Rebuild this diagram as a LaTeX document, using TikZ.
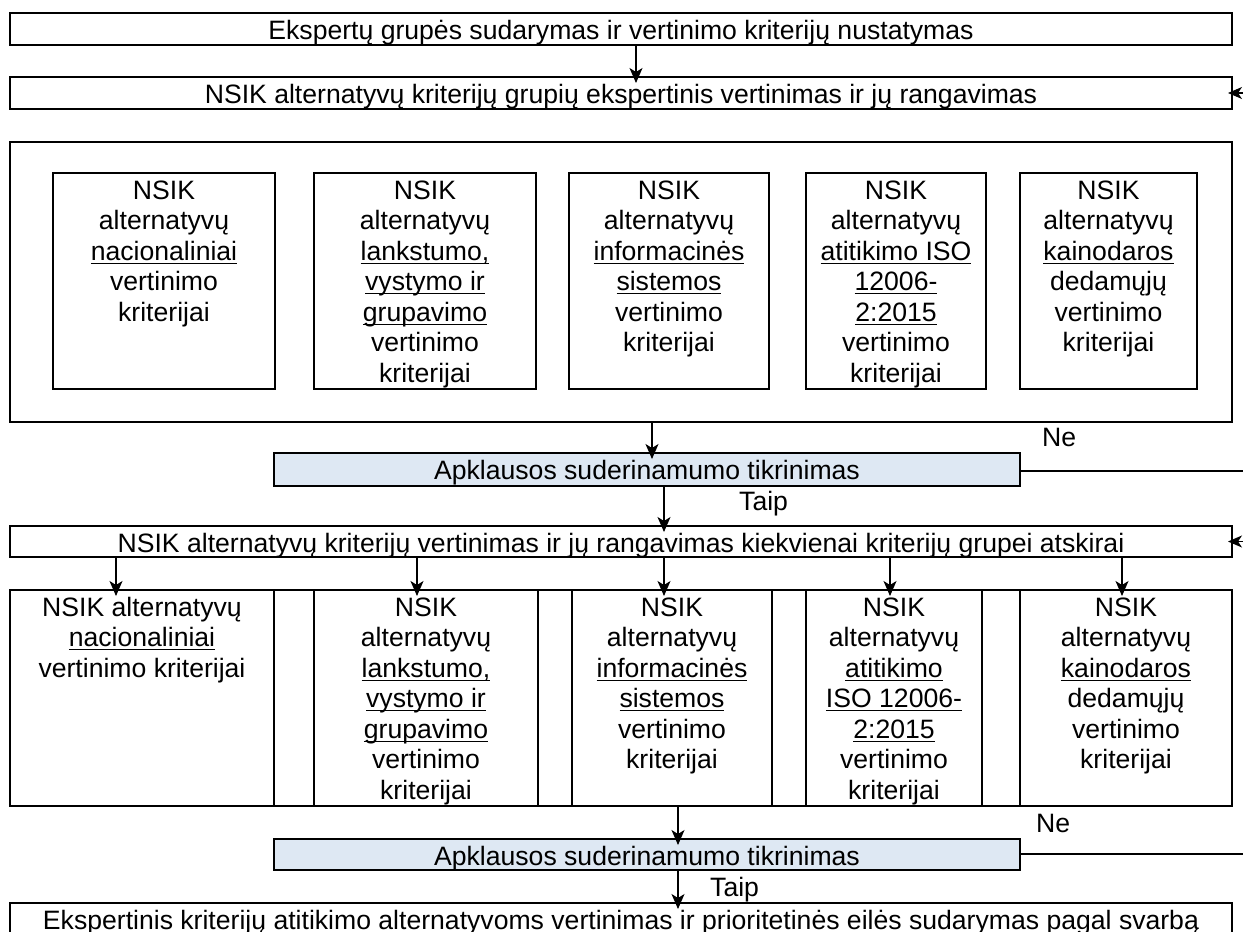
\documentclass[tikz,border=0pt]{standalone}
\usepackage{fontspec}
\setmainfont{Liberation Sans}
\usetikzlibrary{arrows.meta}
\definecolor{apkblue}{RGB}{222,232,243}
% top-aligned text block of fixed size, first baseline 26pt below the top
\newcommand\bx[3]{\parbox[t][#2pt][t]{#1pt}{\centering\leavevmode\rule{0pt}{26pt}#3\par}}
% underline sitting a little below the baseline
\newcommand\ulin[1]{\leavevmode\setbox0\hbox{#1}\rlap{\rule[-3.9pt]{\wd0}{1.2pt}}\box0}
\begin{document}
\begin{tikzpicture}[x=1pt,y=-1pt,
  font=\fontsize{26.6pt}{30.5pt}\selectfont,
  box/.style={draw=black, line width=1.1pt, inner sep=0pt, outer sep=0pt, anchor=north west},
  apk/.style={box, fill=apkblue},
  arr/.style={-{Stealth[length=15pt,width=13pt,inset=4pt]}, line width=1.1pt, shorten >=-6pt},
  back/.style={-{Stealth[length=14pt,width=12pt,inset=4pt]}, line width=1.1pt, shorten >=-4pt},
  plain/.style={line width=1.1pt},
  lbl/.style={anchor=base west, inner sep=0pt}]
\useasboundingbox (0,0) rectangle (1243,932);
\clip (0,0) rectangle (1243,932);

% first stage
\node[box] (b1) at (10,13) {\bx{1222}{32}{Ekspertų grupės sudarymas ir vertinimo kriterijų nustatymas}};
\node[box] (b2) at (10,77) {\bx{1222}{32}{NSIK alternatyvų kriterijų grupių ekspertinis vertinimas ir jų rangavimas}};

% criteria groups
\node[box] (cont) at (10,142) {\bx{1222}{280}{}};
\node[box] (t1) at (53,173) {\bx{222}{216}{NSIK\par alternatyvų\par \ulin{nacionaliniai}\par vertinimo\par kriterijai}};
\node[box] (t2) at (314,173) {\bx{222}{216}{NSIK\par alternatyvų\par \ulin{lankstumo,}\par \ulin{vystymo ir}\par \ulin{grupavimo}\par vertinimo\par kriterijai}};
\node[box] (t3) at (569,173) {\bx{200}{216}{NSIK\par alternatyvų\par \ulin{informacinės}\par \ulin{sistemos}\par vertinimo\par kriterijai}};
\node[box] (t4) at (806,173) {\bx{180}{216}{NSIK\par alternatyvų\par \ulin{atitikimo ISO}\par \ulin{12006-}\par \ulin{2:2015}\par vertinimo\par kriterijai}};
\node[box] (t5) at (1020,173) {\bx{177}{216}{NSIK\par alternatyvų\par \ulin{kainodaros}\par dedamųjų\par vertinimo\par kriterijai}};

% first consistency check
\node[apk] (apk1) at (274,453) {\bx{746}{33}{Apklausos suderinamumo tikrinimas}};

% second stage
\node[box] (grp) at (10,526) {\bx{1222}{31}{NSIK alternatyvų kriterijų vertinimas ir jų rangavimas kiekvienai kriterijų grupei atskirai}};

\node[box] (l1) at (10,590) {\bx{264}{216}{NSIK alternatyvų\par \ulin{nacionaliniai}\par vertinimo kriterijai}};
\node[box] (s1) at (274,590) {\bx{40}{216}{}};
\node[box] (l2) at (314,590) {\bx{224}{216}{NSIK\par alternatyvų\par \ulin{lankstumo,}\par \ulin{vystymo ir}\par \ulin{grupavimo}\par vertinimo\par kriterijai}};
\node[box] (s2) at (538,590) {\bx{34}{216}{}};
\node[box] (l3) at (572,590) {\bx{200}{216}{NSIK\par alternatyvų\par \ulin{informacinės}\par \ulin{sistemos}\par vertinimo\par kriterijai}};
\node[box] (s3) at (772,590) {\bx{34}{216}{}};
\node[box] (l4) at (806,590) {\bx{176}{216}{NSIK\par alternatyvų\par \ulin{atitikimo}\par \ulin{ISO 12006-}\par \ulin{2:2015}\par vertinimo\par kriterijai}};
\node[box] (s4) at (982,590) {\bx{38}{216}{}};
\node[box] (l5) at (1020,590) {\bx{212}{216}{NSIK\par alternatyvų\par \ulin{kainodaros}\par dedamųjų\par vertinimo\par kriterijai}};

% second consistency check and final step
\node[apk] (apk2) at (274,839) {\bx{746}{31}{Apklausos suderinamumo tikrinimas}};
\node[box] (fin) at (10,903) {\bx{1222}{40}{Ekspertinis kriterijų atitikimo alternatyvoms vertinimas ir prioritetinės eilės sudarymas pagal svarbą}};

% connector columns
\coordinate (xa) at (636,0);
\coordinate (xb) at (652,0);
\coordinate (xc) at (664,0);
\coordinate (xd) at (678,0);
\coordinate (x1) at (116,0);
\coordinate (x2) at (417,0);
\coordinate (x3) at (664,0);
\coordinate (x4) at (890,0);
\coordinate (x5) at (1122,0);

\draw[arr] (b1.south -| xa) -- (b2.north -| xa);
\draw[arr] (cont.south -| xb) -- (apk1.north -| xb);
\draw[arr] (apk1.south -| xc) -- (grp.north -| xc);
\draw[arr] (grp.south -| x1) -- (l1.north -| x1);
\draw[arr] (grp.south -| x2) -- (l2.north -| x2);
\draw[arr] (grp.south -| x3) -- (l3.north -| x3);
\draw[arr] (grp.south -| x4) -- (l4.north -| x4);
\draw[arr] (grp.south -| x5) -- (l5.north -| x5);
\draw[arr] (l3.south -| xd) -- (apk2.north -| xd);
\draw[arr] (apk2.south -| xd) -- (fin.north -| xd);

% "Ne" returns along the right margin
\coordinate (r1) at (1243,471);
\coordinate (r2) at (1243,854);
\coordinate (q1) at (1243,93);
\coordinate (q2) at (1243,541.5);
\draw[plain] (apk1.east |- r1) -- (r1);
\draw[plain] (apk2.east |- r2) -- (r2);
\draw[back] (q1) -- (b2.east |- q1);
\draw[back] (q2) -- (grp.east |- q2);

% branch labels
\node[lbl] (ne1) at (1042,446) {Ne};
\node[lbl] (taip1) at (739,510) {Taip};
\node[lbl] (ne2) at (1036,832) {Ne};
\node[lbl] (taip2) at (710,896) {Taip};
\end{tikzpicture}
\end{document}
